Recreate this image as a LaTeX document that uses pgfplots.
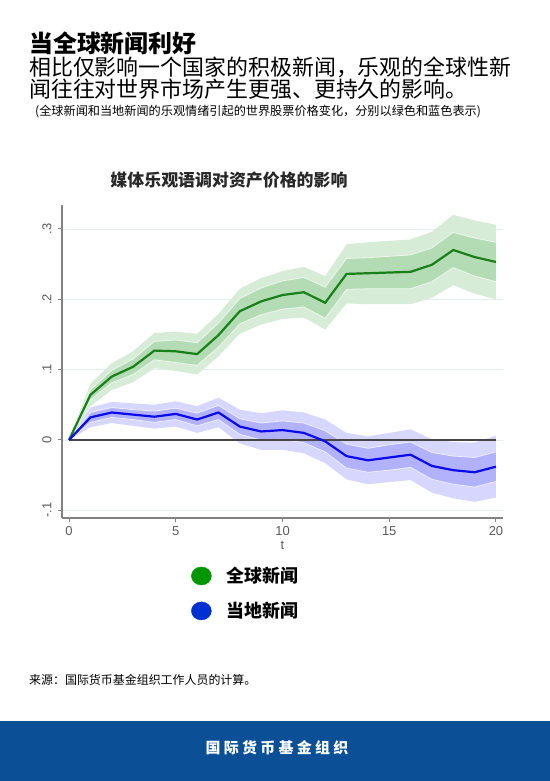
\documentclass[border=0pt]{standalone}
\usepackage{pgfplots}
\pgfplotsset{compat=1.18}
\usepackage{pgfplotstable}
\usepackage{fontspec}
\setmainfont{Liberation Sans}
\newfontfamily\cjk{Noto Sans CJK SC}
\newfontfamily\cjkfoot{Noto Sans CJK SC}[LetterSpace=22]

\definecolor{gLine}{RGB}{25,128,25}
\definecolor{gIn}{RGB}{180,220,180}
\definecolor{gOut}{RGB}{214,236,214}
\definecolor{bLine}{RGB}{10,10,235}
\definecolor{bIn}{RGB}{178,178,252}
\definecolor{bOut}{RGB}{214,214,255}
\definecolor{legG}{RGB}{0,150,0}
\definecolor{legB}{RGB}{0,48,210}
\definecolor{axisgray}{RGB}{130,130,130}
\definecolor{labgray}{RGB}{90,90,90}
\definecolor{gridc}{RGB}{226,240,236}
\definecolor{footblue}{RGB}{11,79,150}
\definecolor{ttl}{RGB}{40,40,40}
\definecolor{zeroc}{RGB}{70,70,70}

% point estimates and inner-band edges
\pgfplotstableread{
t g gil giu
0 0 0 0
1 0.064 0.057 0.071
2 0.090 0.081 0.099
3 0.104 0.093 0.115
4 0.127 0.114 0.140
5 0.126 0.110 0.142
6 0.122 0.106 0.138
7 0.149 0.132 0.166
8 0.183 0.165 0.201
9 0.197 0.178 0.216
10 0.206 0.186 0.226
11 0.210 0.189 0.231
12 0.195 0.173 0.217
13 0.236 0.214 0.258
14 0.237 0.215 0.259
15 0.238 0.215 0.261
16 0.239 0.215 0.263
17 0.249 0.225 0.273
18 0.270 0.245 0.295
19 0.260 0.233 0.287
20 0.253 0.225 0.281
}\greentab

\pgfplotstableread{
t b bil biu
0 0 0 0
1 0.032 0.025 0.039
2 0.039 0.032 0.046
3 0.036 0.029 0.043
4 0.033 0.025 0.041
5 0.037 0.029 0.045
6 0.029 0.020 0.038
7 0.039 0.029 0.049
8 0.019 0.008 0.030
9 0.012 0.000 0.024
10 0.014 0.001 0.027
11 0.010 -0.004 0.024
12 -0.002 -0.017 0.013
13 -0.023 -0.040 -0.006
14 -0.029 -0.046 -0.012
15 -0.025 -0.043 -0.007
16 -0.021 -0.039 -0.003
17 -0.037 -0.056 -0.018
18 -0.043 -0.063 -0.023
19 -0.046 -0.067 -0.025
20 -0.038 -0.059 -0.017
}\bluetab

% band outlines: upper edge forward, lower edge back
\pgfplotstableread{
x y
0 0
1 0.080
2 0.109
3 0.126
4 0.152
5 0.154
6 0.151
7 0.179
8 0.215
9 0.230
10 0.240
11 0.246
12 0.233
13 0.278
14 0.281
15 0.283
16 0.285
17 0.296
18 0.320
19 0.312
20 0.306
20 0.200
19 0.208
18 0.220
17 0.202
16 0.193
15 0.193
14 0.193
13 0.194
12 0.157
11 0.174
10 0.172
9 0.164
8 0.151
7 0.119
6 0.093
5 0.098
4 0.102
3 0.082
2 0.071
1 0.048
0 0
}\gOutPoly

\pgfplotstableread{
x y
0 0
1 0.071
2 0.099
3 0.115
4 0.140
5 0.142
6 0.138
7 0.166
8 0.201
9 0.216
10 0.226
11 0.231
12 0.217
13 0.258
14 0.259
15 0.261
16 0.263
17 0.273
18 0.295
19 0.287
20 0.281
20 0.225
19 0.233
18 0.245
17 0.225
16 0.215
15 0.215
14 0.215
13 0.214
12 0.173
11 0.189
10 0.186
9 0.178
8 0.165
7 0.132
6 0.106
5 0.110
4 0.114
3 0.093
2 0.081
1 0.057
0 0
}\gInPoly

\pgfplotstableread{
x y
0 0
1 0.046
2 0.054
3 0.052
4 0.050
5 0.055
6 0.048
7 0.060
8 0.043
9 0.038
10 0.042
11 0.039
12 0.029
13 0.010
14 0.005
15 0.010
16 0.015
17 0.001
18 -0.003
19 -0.004
20 0.006
20 -0.082
19 -0.088
18 -0.083
17 -0.075
16 -0.057
15 -0.060
14 -0.063
13 -0.056
12 -0.033
11 -0.019
10 -0.014
9 -0.014
8 -0.005
7 0.018
6 0.010
5 0.019
4 0.016
3 0.020
2 0.024
1 0.018
0 0
}\bOutPoly

\pgfplotstableread{
x y
0 0
1 0.039
2 0.046
3 0.043
4 0.041
5 0.045
6 0.038
7 0.049
8 0.030
9 0.024
10 0.027
11 0.024
12 0.013
13 -0.006
14 -0.012
15 -0.007
16 -0.003
17 -0.018
18 -0.023
19 -0.025
20 -0.017
20 -0.059
19 -0.067
18 -0.063
17 -0.056
16 -0.039
15 -0.043
14 -0.046
13 -0.040
12 -0.017
11 -0.004
10 0.001
9 0.000
8 0.008
7 0.029
6 0.020
5 0.029
4 0.025
3 0.029
2 0.032
1 0.025
0 0
}\bInPoly

\begin{document}
\begin{tikzpicture}
\fill[white] (0,0) rectangle (550bp,781bp);
\path[use as bounding box] (0,0) rectangle (550bp,781bp);

% title block
\node[anchor=west, inner sep=0pt, font=\cjk\bfseries\fontsize{24}{26}\selectfont] at (29bp,738bp) {当全球新闻利好};
\node[anchor=west, inner sep=0pt, font=\cjk\fontsize{22}{24}\selectfont] at (29bp,714bp) {相比仅影响一个国家的积极新闻，乐观的全球性新};
\node[anchor=west, inner sep=0pt, font=\cjk\fontsize{22}{24}\selectfont] at (29bp,692bp) {闻往往对世界市场产生更强、更持久的影响。};
\node[anchor=west, inner sep=0pt, font=\cjk\fontsize{12.2}{14}\selectfont] at (35bp,669bp) {(全球新闻和当地新闻的乐观情绪引起的世界股票价格变化，分别以绿色和蓝色表示)};

% chart title
\node[anchor=center, inner sep=0pt, text=ttl, font=\cjk\bfseries\fontsize{17}{19}\selectfont] at (229bp,601bp) {媒体乐观语调对资产价格的影响};

\begin{axis}[
  at={(62bp,263bp)}, anchor=south west,
  scale only axis, width=441bp, height=313bp,
  xmin=-0.33, xmax=20.33, ymin=-0.111, ymax=0.334,
  axis lines*=left,
  axis line style={axisgray, line width=1.2bp},
  xtick={0,5,10,15,20},
  ytick={-0.1,0,0.1,0.2,0.3},
  yticklabels={-.1,0,.1,.2,.3},
  tick align=outside, major tick length=4bp,
  tick style={axisgray, line width=1bp},
  ymajorgrids, grid style={gridc, line width=0.8bp},
  /pgf/number format/assume math mode=true,
  ticklabel style={font=\fontsize{13}{15}\selectfont, text=labgray},
  yticklabel style={rotate=90, anchor=south, yshift=3bp},
  xticklabel style={yshift=-1bp},
  xlabel={t},
  xlabel style={font=\fontsize{13}{15}\selectfont, text=labgray, yshift=1bp},
  legend style={at={(axis description cs:0.2857,-0.241)}, anchor=west,
     draw=none, fill=none, row sep=14bp,
     font=\cjk\bfseries\fontsize{18}{20}\selectfont,
     /tikz/every odd column/.append style={column sep=13bp}},
  legend cell align=left,
]
\addlegendimage{legend image code/.code={\fill[legG] (10bp,0bp) ellipse (10bp and 9bp);}}
\addlegendentry{全球新闻}
\addlegendimage{legend image code/.code={\fill[legB] (10bp,0bp) ellipse (10bp and 9bp);}}
\addlegendentry{当地新闻}
% bands
\addplot[fill=gOut, draw=none] table[x=x,y=y]{\gOutPoly};
\addplot[fill=gIn, draw=none] table[x=x,y=y]{\gInPoly};
\addplot[white, opacity=0.7, line width=0.8bp] table[x=t,y=giu]{\greentab};
\addplot[white, opacity=0.7, line width=0.8bp] table[x=t,y=gil]{\greentab};
\addplot[fill=bOut, draw=none] table[x=x,y=y]{\bOutPoly};
\addplot[fill=bIn, draw=none] table[x=x,y=y]{\bInPoly};
\addplot[white, opacity=0.7, line width=0.8bp] table[x=t,y=biu]{\bluetab};
\addplot[white, opacity=0.7, line width=0.8bp] table[x=t,y=bil]{\bluetab};
% zero line
\addplot[zeroc, line width=1.8bp] coordinates {(0,0) (20,0)};
% point estimates
\addplot[gLine, line width=2.2bp] table[x=t,y=g]{\greentab};
\addplot[bLine, line width=2.2bp] table[x=t,y=b]{\bluetab};
\end{axis}

% source
\node[anchor=west, inner sep=0pt, font=\cjk\fontsize{12}{14}\selectfont] at (29bp,101bp) {来源：国际货币基金组织工作人员的计算。};

% footer
\fill[footblue] (0,0) rectangle (550bp,60bp);
\node[anchor=center, inner sep=0pt, text=white, font=\cjkfoot\bfseries\fontsize{15}{17}\selectfont] at (277bp,33bp) {国际货币基金组织};
\end{tikzpicture}
\end{document}
